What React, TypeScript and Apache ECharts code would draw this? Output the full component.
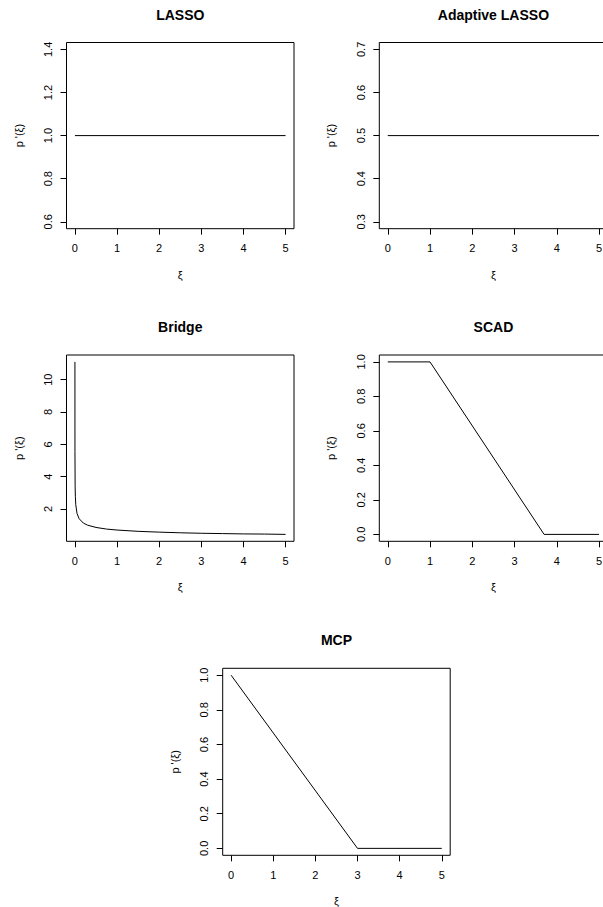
import React, { useEffect, useRef } from "react";
import * as echarts from "echarts";

// ---- data ----
const titles = ["LASSO", "Adaptive LASSO", "Bridge", "SCAD", "MCP"];
const xTicks = [0, 1, 2, 3, 4, 5];

const lassoX = [0, 5];
const lassoY = [1, 1];

const adaptiveX = [0, 5];
const adaptiveY = [0.5, 0.5];

const bridgeX = [0.0001, 0.001, 0.005, 0.01, 0.02, 0.05, 0.1, 0.2, 0.3, 0.5, 0.75, 1, 1.5, 2, 2.5, 3, 3.5, 4, 4.5, 5];
const bridgeY = [11.1, 5.56, 3.43, 2.79, 2.26, 1.72, 1.4, 1.13, 1.0, 0.86, 0.76, 0.7, 0.62, 0.57, 0.53, 0.5, 0.48, 0.46, 0.45, 0.43];

const scadX = [0, 1, 3.7, 5];
const scadY = [1, 1, 0, 0];

const mcpX = [0, 3, 5];
const mcpY = [1, 0, 0];

const yTicksLasso = [0.6, 0.8, 1.0, 1.2, 1.4];
const yTicksAdaptive = [0.3, 0.4, 0.5, 0.6, 0.7];
const yTicksBridge = [2, 4, 6, 8, 10];
const yTicksScad = [0.0, 0.2, 0.4, 0.6, 0.8, 1.0];
const yTicksMcp = [0.0, 0.2, 0.4, 0.6, 0.8, 1.0];

const FONT = "'Liberation Sans', Arial, Helvetica, sans-serif";

function zip(xs: number[], ys: number[]) {
  return xs.map((x, i) => [x, ys[i]]);
}

function ext(lo: number, hi: number) {
  const d = (hi - lo) * 0.04;
  return [lo - d, hi + d];
}

export default function App() {
  const ref = useRef<HTMLDivElement>(null);
  useEffect(() => {
    if (!ref.current) return;
    const chart = echarts.init(ref.current, undefined, { renderer: "svg" });

    const panels = [
      { x: lassoX, y: lassoY, yt: yTicksLasso, yr: ext(0.6, 1.4), dec: 1, g: { left: 66.5, top: 42.5, width: 227.5, height: 186.2 } },
      { x: adaptiveX, y: adaptiveY, yt: yTicksAdaptive, yr: ext(0.3, 0.7), dec: 1, g: { left: 379.3, top: 42.5, width: 228.2, height: 186.2 } },
      { x: bridgeX, y: bridgeY, yt: yTicksBridge, yr: ext(Math.min(...bridgeY), Math.max(...bridgeY)), dec: 0, g: { left: 66.5, top: 355, width: 227.5, height: 186.3 } },
      { x: scadX, y: scadY, yt: yTicksScad, yr: ext(0, 1), dec: 1, g: { left: 379.3, top: 355, width: 228.2, height: 186.3 } },
      { x: mcpX, y: mcpY, yt: yTicksMcp, yr: ext(0, 1), dec: 1, g: { left: 222.7, top: 668.3, width: 227.5, height: 187 } },
    ];

    const xr = ext(0, 5);
    const grid: any[] = [];
    const xAxis: any[] = [];
    const yAxis: any[] = [];
    const series: any[] = [];
    const graphic: any[] = [];

    panels.forEach((p, i) => {
      grid.push({
        ...p.g,
        show: true,
        borderColor: "#000",
        borderWidth: 1,
        containLabel: false,
      });
      xAxis.push({
        type: "value",
        gridIndex: i,
        position: "bottom",
        min: xr[0],
        max: xr[1],
        axisLine: { show: false, onZero: false },
        splitLine: { show: false },
        axisTick: { show: true, inside: false, length: 6, customValues: xTicks, lineStyle: { color: "#000", width: 1 } },
        axisLabel: {
          customValues: xTicks,
          margin: 14,
          color: "#000",
          fontSize: 11,
          fontFamily: FONT,
          formatter: (v: number) => String(v),
        },
      });
      yAxis.push({
        type: "value",
        gridIndex: i,
        position: "left",
        min: p.yr[0],
        max: p.yr[1],
        axisLine: { show: false, onZero: false },
        splitLine: { show: false },
        axisTick: { show: true, inside: false, length: 6, customValues: p.yt, lineStyle: { color: "#000", width: 1 } },
        axisLabel: {
          customValues: p.yt,
          rotate: 90,
          margin: 13,
          color: "#000",
          fontSize: 11,
          fontFamily: FONT,
          formatter: (v: number) => v.toFixed(p.dec),
        },
      });
      series.push({
        type: "line",
        xAxisIndex: i,
        yAxisIndex: i,
        data: zip(p.x, p.y),
        showSymbol: false,
        symbol: "none",
        lineStyle: { color: "#000", width: 1 },
        silent: true,
      });

      const cx = p.g.left + p.g.width / 2;
      const cy = p.g.top + p.g.height / 2;
      const bottom = p.g.top + p.g.height;
      graphic.push({
        type: "text",
        x: cx,
        y: p.g.top - 28,
        style: { text: titles[i], fontSize: 14, fontWeight: "bold", fontFamily: FONT, fill: "#000", align: "center", verticalAlign: "middle" },
      });
      graphic.push({
        type: "text",
        x: cx,
        y: bottom + 46,
        style: { text: "ξ", fontSize: 11, fontFamily: FONT, fill: "#000", align: "center", verticalAlign: "middle" },
      });
      graphic.push({
        type: "text",
        x: p.g.left - 48,
        y: cy,
        rotation: Math.PI / 2,
        style: { text: "p '(ξ)", fontSize: 11, fontFamily: FONT, fill: "#000", align: "center", verticalAlign: "middle" },
      });
    });

    chart.setOption({
      animation: false,
      backgroundColor: "#fff",
      grid,
      xAxis,
      yAxis,
      series,
      graphic,
    });
    return () => chart.dispose();
  }, []);

  return (
    <div
      ref={ref}
      style={{ position: "fixed", left: 0, top: 0, width: 620, height: 907, background: "#fff" }}
    />
  );
}
